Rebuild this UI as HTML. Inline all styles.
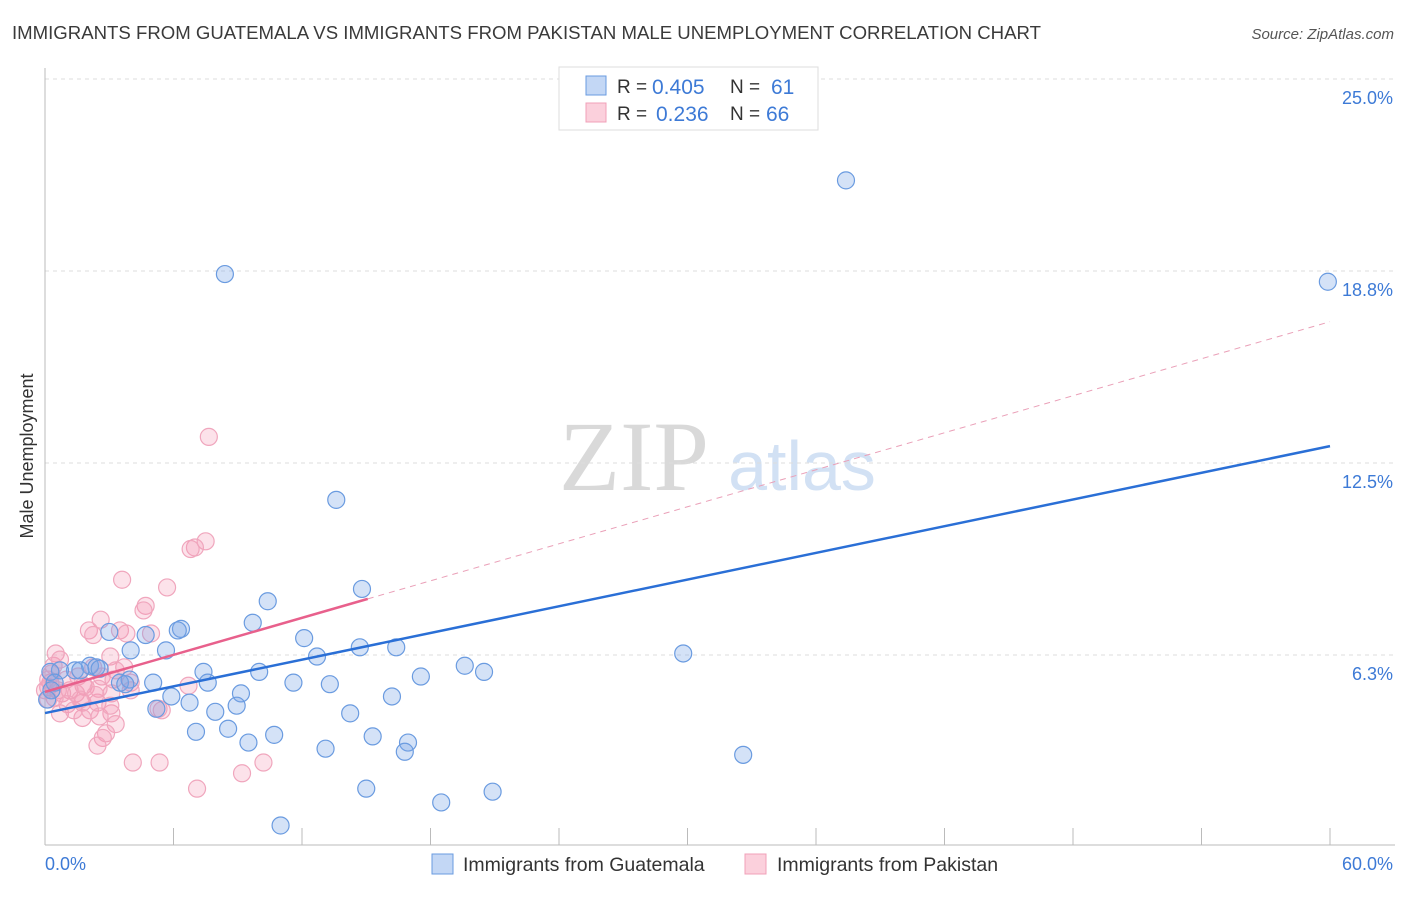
<!DOCTYPE html>
<html><head><meta charset="utf-8"><style>
body{margin:0;background:#fff;font-family:"Liberation Sans",sans-serif;}
</style></head><body>
<svg id="chart" width="1406" height="892" xmlns="http://www.w3.org/2000/svg" font-family="Liberation Sans, sans-serif">
<text x="12" y="39" font-size="18.6" fill="#3a3a3a">IMMIGRANTS FROM GUATEMALA VS IMMIGRANTS FROM PAKISTAN MALE UNEMPLOYMENT CORRELATION CHART</text>
<text x="1394" y="39" font-size="15" fill="#555" font-style="italic" text-anchor="end">Source: ZipAtlas.com</text>
<text x="634" y="490" font-size="100" fill="#d9d9d9" style="font-family:'Liberation Serif',serif" text-anchor="middle">ZIP</text>
<text x="802" y="490" font-size="70" fill="#d2e1f4" text-anchor="middle">atlas</text>
<text transform="translate(33,456) rotate(-90)" font-size="18" fill="#333" text-anchor="middle">Male Unemployment</text>
<g id="grid"></g><g id="marks"></g>
<g>
<rect x="559" y="67" width="259" height="63" fill="#fff" stroke="#ddd"/>
<rect x="586" y="76" width="20" height="19" fill="#c3d7f5" stroke="#6a9be0"/>
<rect x="586" y="103" width="20" height="19" fill="#fbd0dc" stroke="#f0a0b8"/>
<text x="617" y="93" font-size="19" fill="#333">R = </text><text x="652" y="94" font-size="21" fill="#3d7ad6">0.405</text>
<text x="730" y="93" font-size="19" fill="#333">N = </text><text x="771" y="94" font-size="21" fill="#3d7ad6">61</text>
<text x="617" y="120" font-size="19" fill="#333">R = </text><text x="656" y="121" font-size="21" fill="#3d7ad6">0.236</text>
<text x="730" y="120" font-size="19" fill="#333">N = </text><text x="766" y="121" font-size="21" fill="#3d7ad6">66</text>
</g>
<g>
<rect x="432" y="854" width="21" height="20" fill="#c3d7f5" stroke="#6a9be0"/>
<text x="463" y="871" font-size="19.5" fill="#333">Immigrants from Guatemala</text>
<rect x="745" y="854" width="21" height="20" fill="#fbd0dc" stroke="#f0a0b8"/>
<text x="777" y="871" font-size="19.5" fill="#333">Immigrants from Pakistan</text>
</g>
</svg>
<script>
const yTicks=[6.25,12.5,18.75,25];
const yTickLabels=["6.3%","12.5%","18.8%","25.0%"];
const xTickCount=10;
const xMax=60;
const guatX=[37.4,59.9,8.4,13.6,14.8,10.4,6.35,6.2,9.7,4.7,3.0,12.1,14.7,16.4,5.65,4.0,12.7,29.8,19.6,20.5,17.55,7.4,10.0,11.6,13.3,7.6,5.05,3.5,2.1,2.4,1.4,0.7,0.25,0.45,9.15,16.2,5.9,6.75,8.95,7.95,5.2,14.25,8.55,7.05,15.3,10.7,9.5,16.95,13.1,16.8,32.6,15.0,20.9,18.5,11.0,1.65,2.55,3.95,3.75,0.3,0.1];
const guatY=[21.7,18.4,18.65,11.3,8.4,8.0,7.1,7.05,7.3,6.9,7.0,6.8,6.5,6.5,6.4,6.4,6.2,6.3,5.9,5.7,5.55,5.7,5.7,5.35,5.3,5.35,5.35,5.35,5.9,5.85,5.75,5.75,5.7,5.35,5.0,4.9,4.9,4.7,4.6,4.4,4.5,4.35,3.85,3.75,3.6,3.65,3.4,3.4,3.2,3.1,3.0,1.9,1.8,1.45,0.7,5.75,5.8,5.45,5.3,5.1,4.8];
const pakX=[7.65,7.5,7.0,6.8,3.6,5.7,4.7,4.6,2.6,3.5,3.8,4.95,2.05,2.25,0.5,3.05,0.4,3.7,3.3,2.25,2.65,3.2,4.0,1.8,1.15,0.6,0.15,0.25,0.15,0.8,1.45,2.45,1.75,1.05,2.1,0.7,3.1,1.75,2.55,3.3,5.45,5.3,6.7,4.0,2.85,2.7,2.45,4.1,5.35,9.2,10.2,7.1,0.45,0.3,1.0,1.55,1.9,0.0,3.1,2.5,1.35,1.65,2.35,3.05,0.7,0.15];
const pakY=[13.35,9.95,9.75,9.7,8.7,8.45,7.85,7.7,7.4,7.05,6.95,6.95,7.05,6.9,6.3,6.2,5.9,5.85,5.75,5.85,5.55,5.45,5.35,5.25,5.1,5.1,5.2,5.35,5.45,5.0,5.0,4.7,4.7,4.65,4.45,4.35,4.35,4.2,4.25,4.0,4.45,4.5,5.25,5.1,3.7,3.55,3.3,2.75,2.75,2.4,2.75,1.9,4.85,5.65,5.45,5.55,5.2,5.1,5.0,5.15,4.45,4.8,4.95,4.6,6.1,4.8];
const guatTrend=[4.36,13.05];
const pakTrend=[5.05,17.1];
const pakSolidEnd=15.07;

const NS="http://www.w3.org/2000/svg";
const X0=45,X1=1330,Y0=847,PPY=30.72;
const sx=v=>X0+(X1-X0)*v/xMax;
const sy=v=>Y0-v*PPY;
function mk(t,a,p){const e=document.createElementNS(NS,t);for(const k in a)e.setAttribute(k,a[k]);p.appendChild(e);return e;}
const grid=document.getElementById('grid'),marks=document.getElementById('marks');
yTicks.forEach((t,i)=>{
  const l=mk('line',{x1:X0,x2:1395,y1:sy(t),y2:sy(t),stroke:'#ddd','stroke-dasharray':'4,4'},grid);
  
  
  const tx=mk('text',{x:1393,y:sy(t)+25,'font-size':18,fill:'#3d7ad6','text-anchor':'end'},grid);
  tx.textContent=yTickLabels[i];
  
  
});
const ax=mk('line',{x1:X0,x2:X0,y1:68,y2:845,stroke:'#bbb'},grid);


const bx=mk('line',{x1:X0,x2:1395,y1:845,y2:845,stroke:'#bbb'},grid);


for(let i=0;i<=xTickCount;i++){
  const xx=sx(xMax*i/xTickCount);
  const tk=mk('line',{x1:xx,x2:xx,y1:828,y2:845,stroke:'#bbb'},grid);
  
  
}
const xl0=mk('text',{x:45,y:870,'font-size':18,fill:'#3d7ad6'},grid);xl0.textContent='0.0%';


const xl1=mk('text',{x:1393,y:870,'font-size':18,fill:'#3d7ad6','text-anchor':'end'},grid);xl1.textContent='60.0%';



pakX.forEach((v,i)=>{
  const c=mk('circle',{cx:sx(v),cy:sy(pakY[i]),r:8.5,fill:'rgba(243,150,178,0.28)',stroke:'#f0a6bd','stroke-width':1.2},marks);
  
  
});
guatX.forEach((v,i)=>{
  const c=mk('circle',{cx:sx(v),cy:sy(guatY[i]),r:8.5,fill:'rgba(120,165,230,0.32)',stroke:'#6a9be0','stroke-width':1.2},marks);
  
  
});
const pt=v=>pakTrend[0]+(pakTrend[1]-pakTrend[0])*v/xMax;
const pd=mk('line',{x1:sx(pakSolidEnd),y1:sy(pt(pakSolidEnd)),x2:sx(xMax),y2:sy(pakTrend[1]),stroke:'#eaa0b8','stroke-width':1,'stroke-dasharray':'6,5'},marks);


const ps=mk('line',{x1:sx(0),y1:sy(pakTrend[0]),x2:sx(pakSolidEnd),y2:sy(pt(pakSolidEnd)),stroke:'#e8608c','stroke-width':2.5},marks);


const gl=mk('line',{x1:sx(0),y1:sy(guatTrend[0]),x2:sx(xMax),y2:sy(guatTrend[1]),stroke:'#2a6fd6','stroke-width':2.5},marks);


</script>
</body></html>
